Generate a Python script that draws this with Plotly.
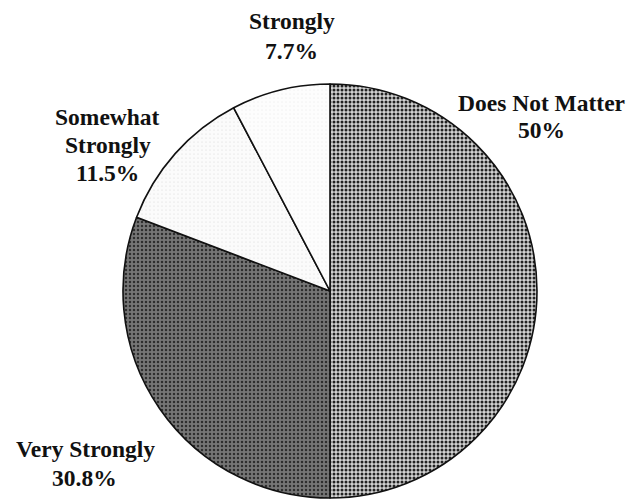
import plotly.graph_objects as go

categories = ["Does Not Matter", "Very Strongly", "Somewhat Strongly", "Strongly"]
label_lines = [["Does Not Matter"], ["Very Strongly"], ["Somewhat", "Strongly"], ["Strongly"]]
values = [50, 30.8, 11.5, 7.7]

fill_bg = ["#d2d2d2", "#767676", "#fbfbfb", "#fdfdfd"]
fill_fg = ["#222222", "#2e2e2e", "#d0d0d0", "#d6d6d6"]
pattern_shapes = [".", ".", ".", "."]
pattern_solidity = [0.45, 0.3, 0.05, 0.04]

W, H = 644, 502
OFF = 8  # page body margin

fig = go.Figure(go.Pie(
    labels=categories,
    values=values,
    sort=False,
    direction="clockwise",
    rotation=0,
    textinfo="none",
    hoverinfo="label+percent",
    showlegend=False,
    marker=dict(
        colors=fill_bg,
        line=dict(color="#111111", width=1.6),
        pattern=dict(shape=pattern_shapes, fgcolor=fill_fg, bgcolor=fill_bg,
                     size=4, solidity=pattern_solidity, fillmode="replace"),
    ),
    domain=dict(x=[(123 - OFF) / W, (537 - OFF) / W],
                y=[1 - (498 - OFF) / H, 1 - (84 - OFF) / H]),
))

# page-pixel centres of each text line (name lines, then the percentage)
line_pos = {
    "Does Not Matter": [(541, 102.5), (541, 130)],
    "Very Strongly": [(85, 449), (84, 477.5)],
    "Somewhat Strongly": [(108, 116.5), (108, 145), (108, 173.5)],
    "Strongly": [(291.5, 21), (291.5, 51)],
}

font = dict(family="Liberation Serif, Times New Roman, serif", size=23.5, color="#111111")
for cat, lines, v in zip(categories, label_lines, values):
    texts = lines + [f"{v:g}%"]
    for t, (x, y) in zip(texts, line_pos[cat]):
        fig.add_annotation(
            x=(x - OFF) / W, y=1 - (y - OFF) / H, xref="paper", yref="paper",
            text=f"<b>{t}</b>", showarrow=False,
            xanchor="center", yanchor="middle", align="center", font=font,
        )

fig.update_layout(
    width=W, height=H,
    margin=dict(l=0, r=0, t=0, b=0),
    paper_bgcolor="white", plot_bgcolor="white",
)

fig.write_html("out.html")
